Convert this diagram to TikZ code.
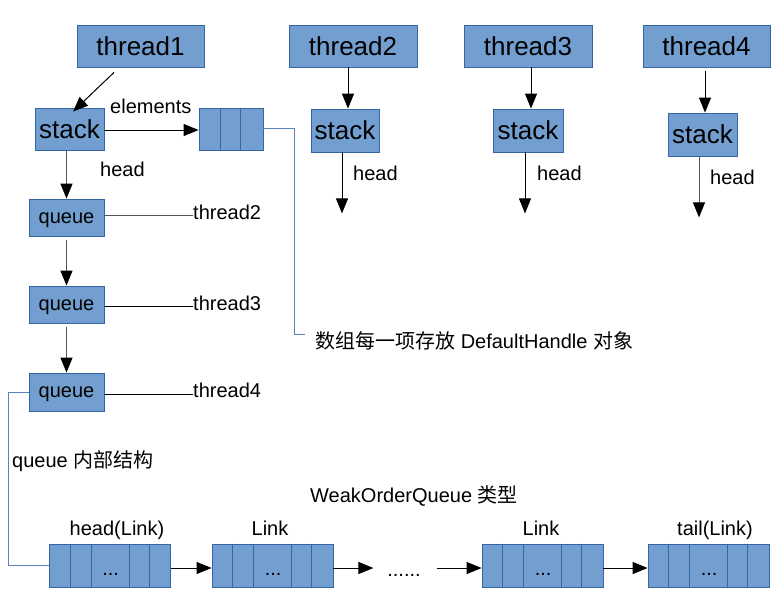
\documentclass[tikz,border=0pt]{standalone}
\usepackage{fontspec}
\setmainfont{Liberation Sans}
\newfontfamily\cjk{Noto Sans CJK SC}
\usetikzlibrary{arrows.meta,calc}
\definecolor{boxfill}{HTML}{729FCF}
\definecolor{boxline}{HTML}{3465A4}
\definecolor{connc}{HTML}{5A82BC}
\definecolor{darkg}{HTML}{555555}
\tikzset{
 blk/.style={draw=boxline, fill=boxfill, line width=0.8pt, inner sep=0pt},
 big/.style={font=\fontsize{26}{30}\selectfont},
 small/.style={font=\fontsize{20}{24}\selectfont},
 qbox/.style={blk, small, minimum width=75pt, text height=14pt, text depth=3pt},
 arr/.style={line width=1pt, -{Triangle[length=15pt,width=12pt,color=black]}},
 garr/.style={arr, draw=darkg},
 lbl/.style={small, inner sep=0pt, anchor=base west},
 conn/.style={draw=connc, line width=0.9pt},
}
\newcommand\LinkBox[2]{%
  \node[blk, minimum width=121pt, minimum height=43pt] (#1) at (#2,565.5) {};
  \foreach \dx in {21,42,80,100}
    \draw[boxline, line width=0.8pt] ($(#1.north west)+(\dx,0)$) -- ($(#1.south west)+(\dx,0)$);
  \node[small, inner sep=0pt, anchor=base] (#1dots) at ($(#1.west)+(61.5,9.5)$) {...};
}
\begin{document}
\begin{tikzpicture}[x=1pt,y=-1pt]
\useasboundingbox (0,0) rectangle (777,603);
% threads
\node[blk, big, minimum width=127pt, minimum height=42pt] (thread1) at (140.5,46) {thread1};
\node[blk, big, minimum width=128pt, minimum height=42pt] (thread2) at (353,46) {thread2};
\node[blk, big, minimum width=128pt, minimum height=42pt] (thread3) at (528,46) {thread3};
\node[blk, big, minimum width=127pt, minimum height=42pt] (thread4) at (706.5,46) {thread4};
% stacks
\node[blk, big, minimum width=69pt, minimum height=42pt] (stack1) at (69.5,129) {stack};
\node[blk, big, minimum width=68pt, minimum height=43pt] (stack2) at (345,130.5) {stack};
\node[blk, big, minimum width=70pt, minimum height=43pt] (stack3) at (528,130.5) {stack};
\node[blk, big, minimum width=69pt, minimum height=43pt] (stack4) at (702.5,134.5) {stack};
% array
\node[blk, minimum width=64pt, minimum height=42pt] (array) at (231,129) {};
\foreach \dx in {22,42}
  \draw[boxline, line width=0.8pt] ($(array.north west)+(\dx,0)$) -- ($(array.south west)+(\dx,0)$);
% queues
\node[qbox, minimum height=37pt] (queue1) at (66.5,217.5) {queue};
\node[qbox, minimum height=37pt] (queue2) at (66.5,304.5) {queue};
\node[qbox, minimum height=38pt] (queue3) at (66.5,392) {queue};
% labels
\node[lbl] (elem) at (110,113) {elements};
\node[lbl] (head1) at (100,176) {head};
\node[lbl] (head2) at (353,180) {head};
\node[lbl] (head3) at (537,180) {head};
\node[lbl] (head4) at (710,184) {head};
\node[lbl] (qt2) at (193,219) {thread2};
\node[lbl] (qt3) at (193,310) {thread3};
\node[lbl] (qt4) at (193,397) {thread4};
\node[lbl] (note) at (315,348) {{\cjk 数组每一项存放}\ DefaultHandle\ {\cjk 对象}};
\node[lbl] (qin) at (12,467) {queue {\cjk 内部结构}};
\node[lbl] (woq) at (310,502) {WeakOrderQueue {\cjk 类型}};
% links
\LinkBox{lk1}{110}
\LinkBox{lk2}{272.5}
\LinkBox{lk3}{542.5}
\LinkBox{lk4}{708.5}
\node[small, inner sep=0pt, anchor=base] (lk1lbl) at (117,535) {head(Link)};
\node[small, inner sep=0pt, anchor=base] (lk2lbl) at (270,535) {Link};
\node[small, inner sep=0pt, anchor=base] (lk3lbl) at (541,535) {Link};
\node[small, inner sep=0pt, anchor=base] (lk4lbl) at (715,535) {tail(Link)};
\node[small, inner sep=0pt, anchor=base] (dots) at (404,576) {......};
% arrows top
\draw[arr] ($(thread1.south)+(-26.5,5)$) -- ($(stack1.north)+(3.5,4)$);
\draw[arr] ([xshift=3pt]stack2.north |- thread2.south) -- ([xshift=3pt]stack2.north);
\draw[arr] ([xshift=3pt]stack3.north |- thread3.south) -- ([xshift=3pt]stack3.north);
\draw[arr] ($([xshift=2.5pt]stack4.north |- thread4.south)+(0,4)$) -- ([xshift=2.5pt]stack4.north);
\draw[arr] ([xshift=-3pt]stack2.south) -- ++(0,61);
\draw[arr] ([xshift=-3pt]stack3.south) -- ++(0,61);
\draw[garr] ([xshift=-3.5pt]stack4.south) -- ++(0,61);
\draw[arr] ([yshift=-1pt]stack1.east) -- ([yshift=-1pt]array.west);
% queue chain
\draw[garr] (queue1.north |- stack1.south) -- (queue1.north);
\draw[garr] ($(queue1.south)+(0,4)$) -- (queue2.north);
\draw[garr] ($(queue2.south)+(0,4)$) -- (queue3.north);
\coordinate (q1e) at ($(queue1.east)+(0,-2)$);
\coordinate (q2e) at ($(queue2.east)+(0,1.5)$);
\coordinate (q3e) at ($(queue3.east)+(0,2)$);
\draw[darkg, line width=1pt] (q1e) -- (q1e -| qt2.west);
\draw[line width=1pt] (q2e) -- (q2e -| qt3.west);
\draw[line width=1pt] (q3e) -- (q3e -| qt4.west);
% blue connectors
\draw[conn] ([yshift=1pt]array.east) -| ($(note.west)+(-21,-6)$) -- ($(note.west)+(-10,-6)$);
\draw[conn] (queue3.west) -- ++(-20,0) |- (lk1.west);
% link arrows
\draw[arr] ([yshift=-2.5pt]lk1.east) -- ([yshift=-2.5pt]lk2.west);
\draw[arr] ([yshift=-2.5pt]lk2.east) -- ++(40,0);
\draw[arr] ($([yshift=-2.5pt]lk3.west)+(-45,0)$) -- ([yshift=-2.5pt]lk3.west);
\draw[arr] ([yshift=-2.5pt]lk3.east) -- ([yshift=-2.5pt]lk4.west);
\end{tikzpicture}
\end{document}
